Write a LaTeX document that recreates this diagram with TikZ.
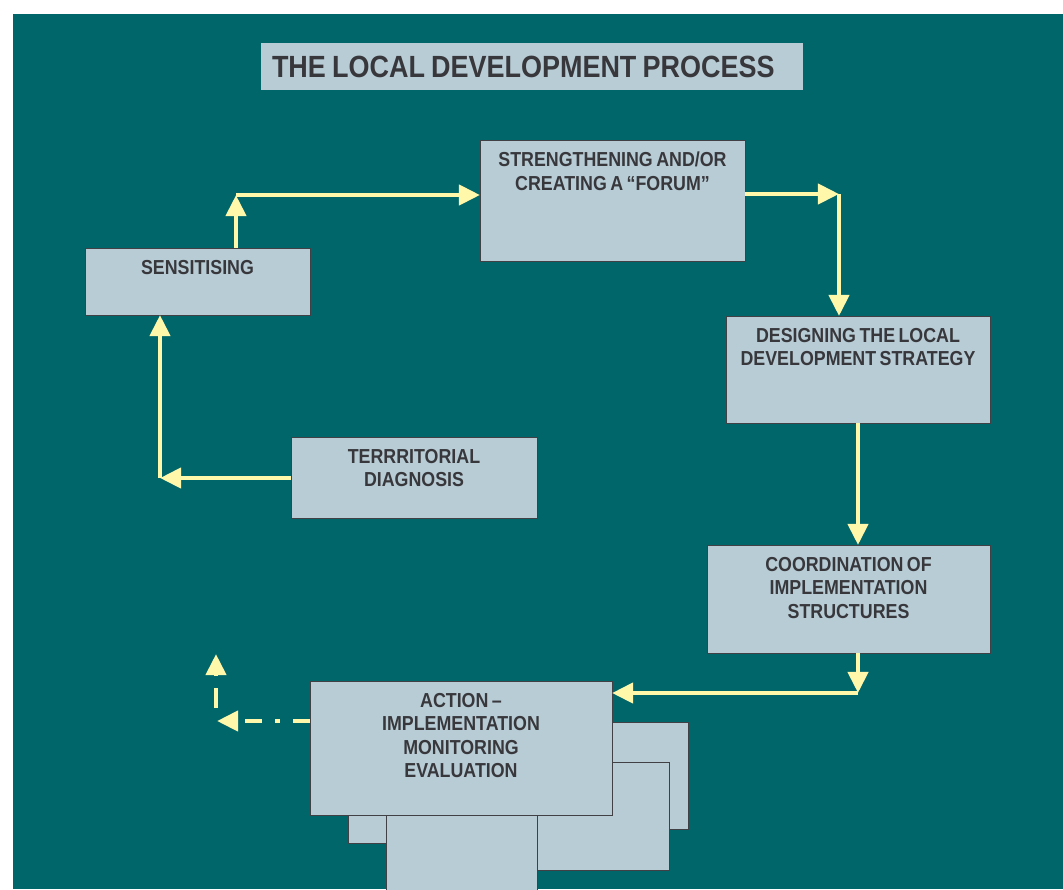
\documentclass[tikz,border=0pt]{standalone}
\usepackage{fontspec}
\setsansfont{Liberation Sans}[FakeStretch=0.88, WordSpace=0.7]
\usetikzlibrary{arrows.meta,positioning}
\definecolor{ldpbg}{HTML}{00666A}
\definecolor{ldpbox}{HTML}{B8CCD6}
\definecolor{ldpline}{HTML}{404045}
\definecolor{ldptext}{HTML}{38383C}
\definecolor{ldparrow}{HTML}{FFF7AA}
\def\px{0.025cm}
\tikzset{
  box/.style 2 args={draw=ldpline, fill=ldpbox, line width=0.7pt, inner sep=0pt, outer sep=0pt,
    minimum width=#1*\px, minimum height=#2*\px},
  lbl/.style={inner sep=0pt, align=center, text=ldptext,
    font=\sffamily\bfseries\fontsize{14.4}{16.65}\selectfont},
  arr/.style={draw=ldparrow, line width=3.3pt, -{Triangle[length=0.53cm,width=0.5cm]}},
  dasharr/.style={arr, dash pattern=on 0.425cm off 0.325cm on 0.125cm off 0.325cm},
}
\begin{document}
\begin{tikzpicture}[x=0.025cm, y=-0.025cm]
    \clip (0,0) rectangle (1063,889);
    \fill[white] (0,0) rectangle (1063,889);
    \fill[ldpbg] (13,14) rectangle (1063,889);
    % title
    \node[fill=ldpbox, inner sep=0pt, minimum width=542*\px, minimum height=47*\px,
      text width=520*\px, align=left, text=ldptext,
      font=\sffamily\bfseries\fontsize{21.8}{24}\selectfont] (title) at (532,66.5) {\spaceskip=0.2em\relax THE LOCAL DEVELOPMENT PROCESS};
    % steps
    \node[box={225}{67}] (sens) at (197.5,281.5) {};
    \node[lbl, below=0.3cm of sens.north] {SENSITISING};
    \node[box={265}{121}] (forum) at (612.5,200.5) {};
    \node[lbl, below=0.3cm of forum.north] {STRENGTHENING AND/OR\\CREATING A “FORUM”};
    \node[box={264}{107}] (design) at (858,369.5) {};
    \node[lbl, below=0.3cm of design.north] {DESIGNING THE LOCAL\\DEVELOPMENT STRATEGY};
    \node[box={246}{81}] (terr) at (414,477.5) {};
    \node[lbl, below=0.3cm of terr.north] {TERRRITORIAL\\DIAGNOSIS};
    \node[box={283}{108}] (coord) at (848.5,599) {};
    \node[lbl, below=0.3cm of coord.north] {COORDINATION OF\\IMPLEMENTATION\\STRUCTURES};
    % stacked sheets behind the last step
    \filldraw[draw=ldpline, fill=ldpbox, line width=0.7pt] (400,722) rectangle (688,829);
    \filldraw[draw=ldpline, fill=ldpbox, line width=0.7pt] (348,760) rectangle (500,843);
    \filldraw[draw=ldpline, fill=ldpbox, line width=0.7pt] (450,762) rectangle (669,870);
    \filldraw[draw=ldpline, fill=ldpbox, line width=0.7pt] (386,760) rectangle (537,900);
    \node[box={302}{134}] (action) at (461,748) {};
    \node[lbl, below=0.3cm of action.north] {ACTION –\\IMPLEMENTATION\\MONITORING\\EVALUATION};
    % bends of the arrows
    \coordinate (c1) at (236,195);
    \coordinate (c2) at (839,194);
    \coordinate (c3) at (858,693);
    \coordinate (c4) at (160,478);
    \coordinate (c5) at (217,721);
    \coordinate (c6) at (216,708);
    \coordinate (c7) at (216,654);
    \draw[arr] (sens.north -| c1) -- (c1);
    \draw[arr] (c1) -- (c1 -| forum.west);
    \draw[arr] (forum.east |- c2) -- (c2);
    \draw[arr] (c2) -- (c2 |- design.north);
    \draw[arr] (design.south -| c3) -- (c3 |- coord.north);
    \draw[arr] (coord.south -| c3) -- (c3);
    \draw[arr] (c3) -- (c3 -| action.east);
    \draw[arr] (terr.west |- c4) -- (c4);
    \draw[arr] (c4) -- (c4 |- sens.south);
    \draw[dasharr] (action.west |- c5) -- (c5);
    \draw[arr, dash pattern=on 0.5cm off 0.3cm] (c6) -- (c7);
\end{tikzpicture}
\end{document}
